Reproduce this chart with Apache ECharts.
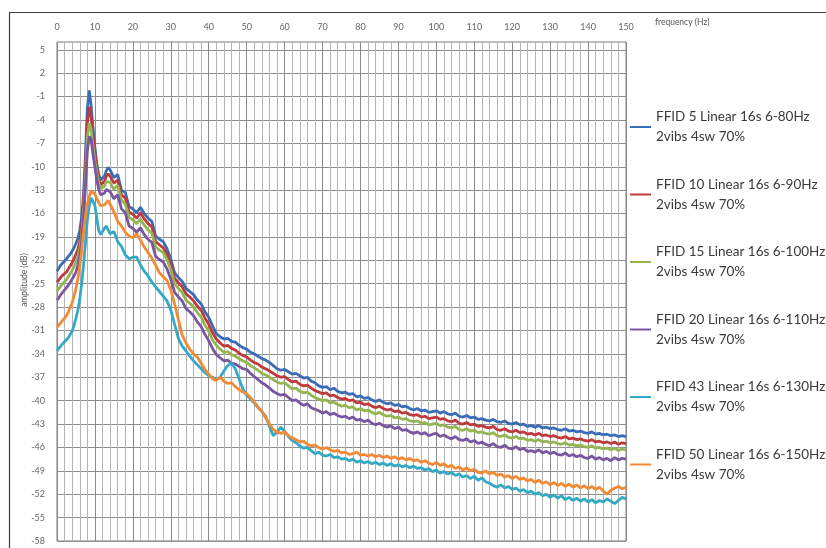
<!DOCTYPE html>
<html>
<head>
<meta charset="utf-8">
<script src="https://cdn.jsdelivr.net/npm/echarts@6/dist/echarts.min.js"></script>
<style>
  html, body { margin: 0; padding: 0; background: #ffffff; }
  #chart { width: 826px; height: 548px; }
</style>
</head>
<body>
<div id="chart"></div>
<script>
// Frequency sampling (Hz): 0.5 Hz steps up to 14 Hz, then 1 Hz steps
const freq = [
  0,0.5,1,1.5,2,2.5,3,3.5,4,4.5,5,5.5,6,6.5,7,7.5,8,8.5,9,9.5,10,10.5,11,11.5,12,12.5,13,13.5,14,
  15,16,17,18,19,20,21,22,23,24,
  25,26,27,28,29,30,31,32,33,34,
  35,36,37,38,39,40,41,42,43,44,
  45,46,47,48,49,50,51,52,53,54,
  55,56,57,58,59,60,61,62,63,64,
  65,66,67,68,69,70,71,72,73,74,
  75,76,77,78,79,80,81,82,83,84,
  85,86,87,88,89,90,91,92,93,94,
  95,96,97,98,99,100,101,102,103,104,
  105,106,107,108,109,110,111,112,113,114,
  115,116,117,118,119,120,121,122,123,124,
  125,126,127,128,129,130,131,132,133,134,
  135,136,137,138,139,140,141,142,143,144,
  145,146,147,148,149,150
];

// Amplitude spectra (dB)
const ffid5 = [
  -23.4,-23.0,-22.6,-22.4,-22.1,-21.9,-21.5,-21.2,-20.8,-20.4,-19.8,-19.2,-18.2,-16.4,-13.5,-8.5,-2.5,-0.2,-2.2,-5.0,-7.6,-9.6,-11.0,-11.7,-11.8,-11.2,-10.5,-10.1,-10.4,
  -11.4,-11.0,-13.0,-13.3,-15.1,-15.4,-15.9,-15.2,-16.0,-16.6,
  -17.0,-18.9,-19.3,-19.6,-20.5,-21.8,-23.6,-24.2,-24.7,-25.6,
  -26.0,-26.4,-27.1,-27.6,-28.6,-29.3,-30.4,-31.4,-31.8,-32.1,
  -32.0,-32.4,-32.5,-32.9,-33.2,-33.4,-33.8,-34.0,-34.3,-34.6,
  -34.8,-35.1,-35.5,-35.9,-36.1,-36.0,-36.3,-36.6,-36.5,-36.8,
  -37.1,-37.0,-37.5,-37.7,-38.1,-38.3,-38.2,-38.6,-38.4,-38.8,
  -39.0,-38.9,-39.2,-39.1,-39.5,-39.4,-39.7,-39.6,-39.9,-40.1,
  -39.9,-40.2,-40.4,-40.3,-40.6,-40.5,-40.8,-40.7,-41.0,-41.2,
  -41.0,-41.3,-41.2,-41.5,-41.4,-41.3,-41.6,-41.4,-41.7,-41.8,
  -41.6,-42.0,-42.1,-41.9,-42.2,-42.1,-42.4,-42.3,-42.5,-42.6,
  -42.4,-42.7,-42.8,-42.6,-42.9,-43.0,-42.8,-43.1,-43.0,-43.3,
  -43.2,-43.4,-43.2,-43.5,-43.4,-43.6,-43.5,-43.7,-43.8,-43.6,
  -43.9,-43.8,-44.0,-43.9,-44.1,-44.2,-44.0,-44.3,-44.2,-44.4,
  -44.3,-44.5,-44.4,-44.6,-44.5,-44.6
];
const ffid10 = [
  -24.8,-24.5,-24.2,-23.9,-23.7,-23.5,-23.1,-22.7,-22.3,-21.8,-21.2,-20.6,-19.6,-17.8,-14.6,-9.8,-4.4,-2.3,-3.6,-6.2,-8.4,-10.2,-11.6,-12.3,-12.4,-11.9,-11.2,-10.9,-11.2,
  -12.1,-11.7,-13.6,-14.0,-15.8,-16.1,-16.6,-15.9,-16.7,-17.3,
  -17.7,-19.6,-20.0,-20.4,-21.2,-22.5,-24.3,-24.9,-25.4,-26.3,
  -26.7,-27.2,-27.9,-28.4,-29.4,-30.2,-31.3,-32.1,-32.6,-33.0,
  -32.9,-33.3,-33.5,-33.9,-34.2,-34.4,-34.8,-35.1,-35.3,-35.7,
  -35.9,-36.2,-36.5,-36.8,-37.0,-36.9,-37.3,-37.6,-37.5,-37.9,
  -38.1,-38.0,-38.4,-38.7,-38.9,-39.1,-39.0,-39.4,-39.3,-39.6,
  -39.8,-39.7,-40.0,-39.9,-40.3,-40.2,-40.5,-40.4,-40.7,-40.9,
  -40.7,-41.0,-41.2,-41.1,-41.4,-41.3,-41.6,-41.5,-41.8,-41.9,
  -41.8,-42.1,-42.0,-42.3,-42.2,-42.1,-42.4,-42.3,-42.6,-42.7,
  -42.5,-42.9,-43.0,-42.8,-43.1,-43.0,-43.3,-43.2,-43.4,-43.5,
  -43.3,-43.7,-43.8,-43.6,-43.9,-44.0,-43.8,-44.1,-44.0,-44.3,
  -44.2,-44.4,-44.2,-44.5,-44.4,-44.6,-44.5,-44.7,-44.8,-44.6,
  -44.9,-44.8,-45.0,-44.9,-45.1,-45.2,-45.0,-45.3,-45.2,-45.4,
  -45.3,-45.5,-45.3,-45.6,-45.4,-45.5
];
const ffid15 = [
  -26.0,-25.6,-25.3,-25.0,-24.8,-24.5,-24.1,-23.7,-23.3,-22.8,-22.2,-21.5,-20.5,-18.8,-15.8,-11.3,-6.3,-4.4,-5.2,-7.4,-9.3,-10.9,-12.1,-12.8,-12.9,-12.5,-11.9,-11.7,-12.0,
  -12.9,-12.4,-14.3,-14.8,-16.5,-16.8,-17.3,-16.7,-17.5,-18.1,
  -18.5,-20.3,-20.7,-21.0,-21.9,-23.2,-25.0,-25.6,-26.1,-27.1,
  -27.5,-28.0,-28.7,-29.3,-30.3,-31.1,-32.2,-32.9,-33.4,-33.8,
  -33.7,-34.1,-34.3,-34.6,-34.9,-35.1,-35.5,-35.8,-36.1,-36.5,
  -36.7,-37.0,-37.3,-37.6,-37.8,-37.7,-38.1,-38.5,-38.4,-38.8,
  -39.0,-38.9,-39.3,-39.6,-39.8,-40.0,-39.9,-40.3,-40.2,-40.5,
  -40.7,-40.6,-40.9,-40.8,-41.2,-41.0,-41.3,-41.2,-41.5,-41.7,
  -41.5,-41.8,-42.0,-41.9,-42.2,-42.1,-42.4,-42.3,-42.6,-42.7,
  -42.6,-42.9,-42.8,-43.1,-43.0,-42.9,-43.2,-43.1,-43.4,-43.5,
  -43.3,-43.7,-43.8,-43.6,-43.9,-43.8,-44.1,-44.0,-44.2,-44.3,
  -44.1,-44.5,-44.6,-44.4,-44.7,-44.8,-44.6,-44.9,-44.8,-45.1,
  -45.0,-45.2,-45.0,-45.3,-45.2,-45.4,-45.3,-45.5,-45.6,-45.4,
  -45.7,-45.6,-45.8,-45.7,-45.9,-46.0,-45.8,-46.1,-46.0,-46.2,
  -46.1,-46.3,-46.1,-46.4,-46.2,-46.3
];
const ffid20 = [
  -27.1,-26.8,-26.4,-26.1,-25.8,-25.6,-25.2,-24.8,-24.4,-24.0,-23.5,-22.6,-21.4,-19.6,-16.6,-12.4,-8.0,-6.1,-6.5,-8.4,-10.1,-11.7,-12.9,-13.6,-13.8,-13.4,-12.9,-12.9,-13.2,
  -14.1,-13.6,-15.4,-15.9,-17.6,-17.9,-18.4,-17.8,-18.7,-19.3,
  -19.7,-21.5,-21.9,-22.2,-23.1,-24.4,-26.1,-26.7,-27.2,-28.2,
  -28.6,-29.1,-29.9,-30.5,-31.5,-32.3,-33.3,-34.1,-34.5,-34.9,
  -34.8,-35.2,-35.3,-35.6,-35.9,-36.0,-36.5,-36.9,-37.3,-37.7,
  -38.0,-38.4,-38.8,-39.1,-39.3,-39.2,-39.6,-40.0,-39.9,-40.3,
  -40.6,-40.4,-40.9,-41.1,-41.3,-41.6,-41.4,-41.8,-41.6,-41.9,
  -42.1,-42.0,-42.3,-42.1,-42.5,-42.4,-42.7,-42.5,-42.9,-43.1,
  -42.9,-43.2,-43.4,-43.2,-43.6,-43.4,-43.8,-43.7,-44.0,-44.2,
  -44.0,-44.3,-44.1,-44.5,-44.3,-44.2,-44.6,-44.4,-44.7,-44.9,
  -44.6,-45.0,-45.1,-44.9,-45.3,-45.1,-45.5,-45.3,-45.6,-45.8,
  -45.5,-45.9,-46.0,-45.7,-46.1,-46.2,-45.9,-46.3,-46.1,-46.5,
  -46.4,-46.6,-46.3,-46.7,-46.5,-46.8,-46.6,-46.9,-47.0,-46.7,
  -47.1,-46.9,-47.2,-47.0,-47.3,-47.4,-47.1,-47.5,-47.3,-47.6,
  -47.4,-47.7,-47.3,-47.6,-47.4,-47.5
];
const ffid43 = [
  -33.6,-33.3,-33.0,-32.7,-32.5,-32.2,-31.9,-31.5,-31.1,-30.3,-29.4,-28.4,-27.0,-25.0,-22.6,-19.8,-16.8,-15.0,-14.0,-13.8,-15.0,-16.6,-18.2,-18.7,-18.3,-17.9,-17.6,-17.8,-18.6,
  -18.3,-19.6,-20.2,-21.3,-21.8,-21.6,-21.6,-22.6,-23.4,-24.0,
  -24.8,-25.4,-26.0,-26.6,-27.2,-28.4,-30.2,-32.0,-33.0,-33.6,
  -34.3,-34.9,-35.4,-35.9,-36.4,-36.8,-37.0,-37.3,-37.0,-36.2,
  -35.5,-35.2,-35.9,-37.2,-38.5,-39.3,-39.8,-40.3,-40.9,-41.4,
  -42.0,-43.3,-44.5,-44.0,-43.4,-43.9,-44.6,-45.1,-45.4,-45.8,
  -46.1,-46.0,-46.4,-46.8,-46.6,-47.0,-47.1,-46.9,-47.3,-47.2,
  -47.5,-47.4,-47.7,-47.5,-47.9,-47.7,-48.0,-47.8,-48.1,-47.9,
  -48.2,-48.0,-48.3,-48.1,-48.4,-48.2,-48.5,-48.3,-48.6,-48.4,
  -48.7,-48.6,-48.9,-48.7,-49.1,-48.9,-49.3,-49.1,-49.4,-49.2,
  -49.6,-49.4,-49.8,-49.6,-50.0,-49.7,-50.2,-49.9,-50.4,-50.6,
  -50.9,-51.1,-50.8,-51.2,-51.0,-51.4,-51.2,-51.6,-51.4,-51.8,
  -51.6,-52.0,-51.8,-52.2,-52.0,-52.4,-52.1,-52.5,-52.2,-52.7,
  -52.4,-52.8,-52.5,-52.9,-52.6,-53.0,-52.7,-53.1,-52.8,-53.0,
  -52.6,-52.9,-53.2,-52.8,-52.4,-52.6
];
const ffid50 = [
  -30.6,-30.3,-30.0,-29.7,-29.4,-29.1,-28.6,-28.0,-27.4,-26.6,-25.6,-24.4,-22.8,-20.8,-18.5,-16.3,-14.8,-13.8,-13.1,-12.9,-13.5,-14.1,-14.6,-15.0,-15.1,-14.9,-14.6,-14.3,-14.3,
  -15.8,-17.0,-17.6,-18.4,-18.9,-19.1,-18.6,-19.4,-20.3,-21.0,
  -21.7,-22.6,-23.6,-24.1,-24.6,-25.8,-27.6,-29.6,-31.6,-32.6,
  -33.4,-34.0,-34.4,-35.2,-36.0,-36.6,-37.2,-37.4,-37.0,-37.5,
  -37.8,-37.7,-38.2,-38.6,-38.9,-39.1,-39.6,-40.2,-40.8,-41.4,
  -42.2,-43.0,-43.7,-44.0,-44.2,-44.0,-44.5,-44.8,-45.0,-45.3,
  -45.2,-45.6,-45.8,-45.7,-46.0,-46.2,-46.0,-46.3,-46.5,-46.4,
  -46.7,-46.6,-46.9,-46.8,-46.6,-47.0,-46.9,-47.1,-46.9,-47.2,
  -47.0,-47.3,-47.1,-47.4,-47.2,-47.5,-47.3,-47.6,-47.4,-47.7,
  -47.6,-47.9,-47.7,-48.0,-48.2,-47.9,-48.3,-48.1,-48.5,-48.3,
  -48.7,-48.5,-48.9,-48.6,-49.0,-48.8,-49.2,-49.3,-49.0,-49.4,
  -49.2,-49.6,-49.4,-49.8,-49.6,-50.0,-49.7,-50.1,-49.9,-50.3,
  -50.1,-50.5,-50.2,-50.6,-50.4,-50.8,-50.5,-50.9,-50.6,-51.0,
  -50.7,-51.1,-50.8,-51.2,-50.9,-51.3,-51.0,-51.4,-51.1,-51.6,
  -52.0,-51.5,-51.2,-51.0,-51.3,-51.1
];

const seriesNames = [
  'FFID 5 Linear 16s 6-80Hz\n2vibs 4sw 70%',
  'FFID 10 Linear 16s 6-90Hz\n2vibs 4sw 70%',
  'FFID 15 Linear 16s 6-100Hz\n2vibs 4sw 70%',
  'FFID 20 Linear 16s 6-110Hz\n2vibs 4sw 70%',
  'FFID 43 Linear 16s 6-130Hz\n2vibs 4sw 70%',
  'FFID 50 Linear 16s 6-150Hz\n2vibs 4sw 70%'
];
const seriesValues = [ffid5, ffid10, ffid15, ffid20, ffid43, ffid50];
const seriesColors = ['#3a6cb7', '#be3a3c', '#94b552', '#7a56a0', '#34a9c5', '#f28a36'];

// Amplitude axis labels
const yTicks = [5,2,-1,-4,-7,-10,-13,-16,-19,-22,-25,-28,-31,-34,-37,-40,-43,-46,-49,-52,-55,-58];

const labelFont = 'Lato, "Liberation Sans", sans-serif';

const chart = echarts.init(document.getElementById('chart'), null, { renderer: 'canvas' });

chart.setOption({
  animation: false,
  backgroundColor: '#ffffff',
  grid: {
    left: 57, right: 200, top: 42, bottom: 7,
    show: true, borderColor: '#7a7a7a', borderWidth: 1, backgroundColor: 'transparent'
  },
  xAxis: {
    type: 'value',
    position: 'top',
    min: 0, max: 150, interval: 10,
    axisLine: { show: false },
    axisTick: { show: false },
    axisLabel: { color: '#666', fontSize: 9, fontFamily: labelFont, margin: 10 },
    splitLine: { show: true, lineStyle: { color: '#8a8a8a', width: 1 } },
    minorTick: { show: false, splitNumber: 5 },
    minorSplitLine: { show: true, lineStyle: { color: '#b4b4b4', width: 1 } }
  },
  yAxis: {
    type: 'value',
    min: -58, max: 6,
    axisLine: { show: false },
    axisTick: { show: false, customValues: yTicks },
    axisLabel: { color: '#666', fontSize: 9, fontFamily: labelFont, margin: 12, customValues: yTicks },
    splitLine: { show: true, lineStyle: { color: '#8f8f8f', width: 1 } }
  },
  legend: {
    orient: 'vertical',
    left: 630, top: 97,
    padding: 0,
    itemGap: 7.5,
    icon: 'rect',
    itemWidth: 21, itemHeight: 2,
    textStyle: { color: '#3a3a3a', fontSize: 13.5, fontFamily: labelFont, lineHeight: 20, padding: [20, 0, 0, 0] },
    data: seriesNames
  },
  graphic: [
    {
      type: 'rect',
      left: 7, top: 10,
      shape: { width: 900, height: 600 },
      style: { fill: 'none', stroke: '#3c3c3c', lineWidth: 1.2 },
      silent: true
    },
    {
      type: 'text',
      x: 655, y: 22,
      style: { text: 'frequency (Hz)', fill: '#555', fontSize: 8.5, fontFamily: labelFont, align: 'left', verticalAlign: 'middle' },
      silent: true
    },
    {
      type: 'text',
      x: 24, y: 280,
      rotation: Math.PI / 2,
      style: { text: 'amplitude (dB)', fill: '#555', fontSize: 8.5, fontFamily: labelFont, align: 'center', verticalAlign: 'middle' },
      silent: true
    }
  ],
  series: seriesValues.map((vals, i) => ({
    name: seriesNames[i],
    type: 'line',
    showSymbol: false,
    symbol: 'none',
    color: seriesColors[i],
    lineStyle: { width: 2.8, color: seriesColors[i] },
    data: freq.map((f, k) => [f, vals[k]])
  }))
});
</script>
</body>
</html>
